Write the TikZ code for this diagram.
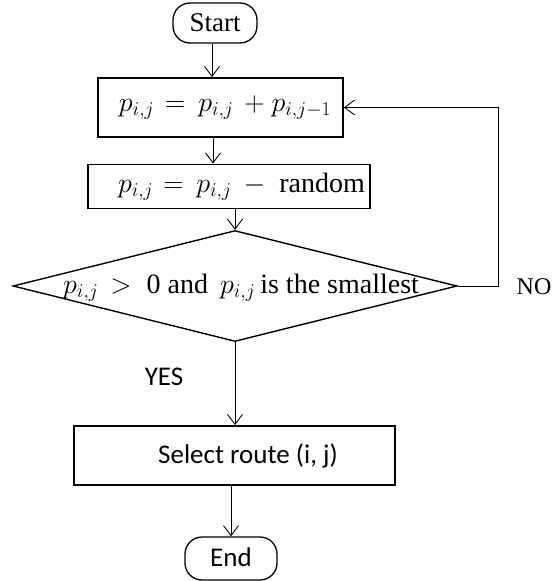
\RequirePackage{fix-cm}
\documentclass[tikz,border=0pt]{standalone}
\usepackage{fontspec}
\setmainfont{Liberation Serif}
\newfontfamily\calfont{Carlito}
\usetikzlibrary{arrows.meta,shapes.geometric}
\begin{document}
\begin{tikzpicture}[x=1pt,y=-1pt,
  term/.style={draw,line width=1.3pt,rounded corners=17pt,inner sep=0pt},
  box/.style={draw,line width=1.7pt,inner sep=0pt},
  dia/.style={draw,diamond,line width=1.4pt,inner sep=0pt},
  lbl/.style={inner sep=0pt},
  cal/.style={font=\fontsize{27}{32}\selectfont\calfont},
  arr/.style={line width=0.9pt,-{Straight Barb[length=10pt,width=15pt,line width=0.9pt]}},
  font=\fontsize{28}{33}\selectfont]
\useasboundingbox (0,0) rectangle (552,581);
\node[term,minimum width=84pt,minimum height=40pt,font=\fontsize{27}{32}\selectfont] (start) at (215,23) {Start};
\node[box,minimum width=245pt,minimum height=59pt] (b1) at (220.5,107.5)
  {\hspace*{9pt}$p_{i,j}$\hspace{11pt}$=$\hspace{13pt}$p_{i,j}$\hspace{11pt}$+$\hspace{7pt}$p_{i,j-1}$};
\node[box,minimum width=282pt,minimum height=44pt] (b2) at (229,186.5)
  {\hspace*{25pt}$p_{i,j}$\hspace{10pt}$=$\hspace{13pt}$p_{i,j}$\hspace{12pt}$-$\hspace{14pt}random};
\node[dia,minimum width=444pt,minimum height=111pt] (dia) at (235,286) {};
\node[lbl,anchor=base west] (dtext) at (63,293)
  {$p_{i,j}$\hspace{12pt}$>$\hspace{15pt}0 and\hspace{12pt}$p_{i,j}$\hspace{5pt}is the smallest};
\node[box,minimum width=321pt,minimum height=59pt,cal] (sel) at (234.5,455.5)
  {\hspace*{27pt}\raisebox{4pt}{Select route (i, j)}};
\node[term,minimum width=92pt,minimum height=43pt,cal] (end) at (231,558.5) {\raisebox{3pt}{End}};
\node[lbl,cal] (yes) at (164,377) {YES};
\node[lbl,font=\fontsize{24}{28}\selectfont] (no) at (534,287) {NO};
\coordinate (loop) at (498,286);
\draw[arr] (start.south -| 212,0) -- (b1.north -| 212,0);
\draw[arr] (b1.south -| 213,0) -- (b2.north -| 213,0);
\draw[arr] (b2.south -| dia.north) -- (dia.north);
\draw[arr] (dia.south) -- (sel.north -| dia.south);
\draw[arr] (sel.south -| end.north) -- (end.north);
\draw[arr] (dia.east) -- (loop) |- (b1.east);
\end{tikzpicture}
\end{document}
